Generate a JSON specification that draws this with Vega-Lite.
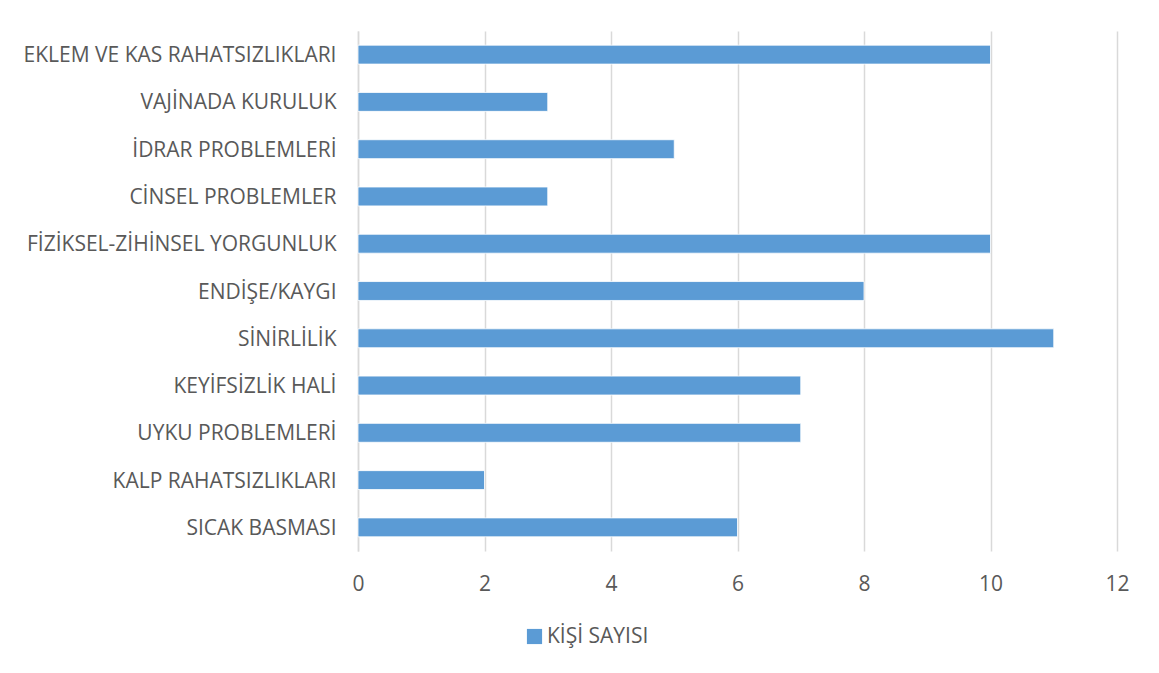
{
  "$schema": "https://vega.github.io/schema/vega-lite/v6.json",
  "autosize": {"type": "none"},
  "padding": {"left": 358, "top": 31, "right": 42, "bottom": 122},
  "width": 759,
  "height": 520,
  "background": "white",
  "data": {
    "values": [
      {"belirti": "EKLEM VE KAS RAHATSIZLIKLARI", "seri": "KİŞİ SAYISI", "sayi": 10},
      {"belirti": "VAJİNADA KURULUK", "seri": "KİŞİ SAYISI", "sayi": 3},
      {"belirti": "İDRAR PROBLEMLERİ", "seri": "KİŞİ SAYISI", "sayi": 5},
      {"belirti": "CİNSEL PROBLEMLER", "seri": "KİŞİ SAYISI", "sayi": 3},
      {"belirti": "FİZİKSEL-ZİHİNSEL YORGUNLUK", "seri": "KİŞİ SAYISI", "sayi": 10},
      {"belirti": "ENDİŞE/KAYGI", "seri": "KİŞİ SAYISI", "sayi": 8},
      {"belirti": "SİNİRLİLİK", "seri": "KİŞİ SAYISI", "sayi": 11},
      {"belirti": "KEYİFSİZLİK HALİ", "seri": "KİŞİ SAYISI", "sayi": 7},
      {"belirti": "UYKU PROBLEMLERİ", "seri": "KİŞİ SAYISI", "sayi": 7},
      {"belirti": "KALP RAHATSIZLIKLARI", "seri": "KİŞİ SAYISI", "sayi": 2},
      {"belirti": "SICAK BASMASI", "seri": "KİŞİ SAYISI", "sayi": 6}
    ]
  },
  "mark": {"type": "bar", "stroke": "white", "strokeWidth": 0.8},
  "encoding": {
    "y": {
      "field": "belirti",
      "type": "nominal",
      "sort": null,
      "scale": {"paddingInner": 0.6, "paddingOuter": 0.3},
      "axis": {
        "title": null,
        "ticks": false,
        "domain": true,
        "domainColor": "#d9d9d9",
        "domainWidth": 1.5,
        "labelPadding": 22,
        "labelFont": "Open Sans",
        "labelFontSize": 21,
        "labelColor": "#595959",
        "labelLimit": 400,
        "labelOffset": 1.5
      }
    },
    "x": {
      "field": "sayi",
      "type": "quantitative",
      "scale": {"domain": [0, 12], "nice": false},
      "axis": {
        "title": null,
        "values": [0, 2, 4, 6, 8, 10, 12],
        "ticks": false,
        "domain": false,
        "grid": true,
        "gridColor": "#d9d9d9",
        "gridWidth": 1.5,
        "labelFlush": false,
        "labelPadding": 22,
        "labelFont": "Open Sans",
        "labelFontSize": 21,
        "labelColor": "#595959"
      }
    },
    "color": {
      "field": "seri",
      "type": "nominal",
      "scale": {"range": ["#5b9bd5"]},
      "legend": {
        "title": null,
        "orient": "none",
        "legendX": 166,
        "legendY": 595,
        "symbolType": "square",
        "symbolSize": 230,
        "symbolStrokeWidth": 0,
        "labelFont": "Open Sans",
        "labelFontSize": 21,
        "labelColor": "#595959",
        "labelOffset": 2
      }
    }
  },
  "config": {"view": {"stroke": null}}
}
